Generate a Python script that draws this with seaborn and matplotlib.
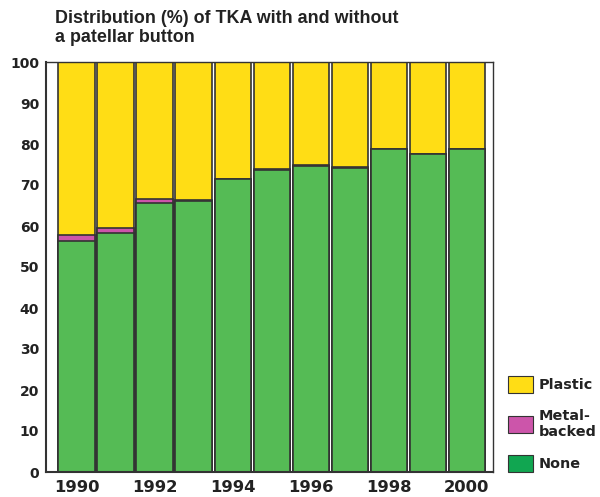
"""
Distribution (%) of TKA with and without a patellar button, 1990-2000
"""

import pandas as pd
import seaborn as sns
import matplotlib.pyplot as plt
from matplotlib.patches import Patch

years = ["1990", "1991", "1992", "1993", "1994", "1995",
         "1996", "1997", "1998", "1999", "2000"]
none_pct = [56.4, 58.4, 65.5, 66.1, 71.4, 73.6, 74.7, 74.2, 78.8, 77.5, 78.8]
metal_pct = [1.5, 1.0, 1.0, 0.2, 0.1, 0.4, 0.1, 0.1, 0.0, 0.0, 0.0]
plastic_pct = [100 - n - m for n, m in zip(none_pct, metal_pct)]

tick_labels = [y if int(y) % 2 == 0 else "" for y in years]

df = pd.DataFrame({"year": years, "none": none_pct,
                   "metal": metal_pct, "plastic": plastic_pct})
# cumulative heights so the layers can be drawn back to front
df["top_metal"] = df["none"] + df["metal"]
df["top_plastic"] = df["top_metal"] + df["plastic"]

c_plastic = "#FFDD15"
c_metal = "#CC55AA"
c_none = "#55BB55"
c_none_legend = "#11A651"
edge = "#333333"
txt = "#222222"

sns.set_style("white")
plt.rcParams["font.family"] = ["DejaVu Sans"]

fig = plt.figure(figsize=(6, 4.97), dpi=100)
ax = fig.add_axes([46 / 600, 1 - 472 / 497, 447 / 600, 410 / 497])

bar_kw = dict(width=0.94, edgecolor=edge, linewidth=1.2, ax=ax)
sns.barplot(data=df, x="year", y="top_plastic", color=c_plastic, saturation=1, **bar_kw)
sns.barplot(data=df, x="year", y="top_metal", color=c_metal, saturation=1, **bar_kw)
sns.barplot(data=df, x="year", y="none", color=c_none, saturation=1, **bar_kw)

ax.set_xlim(-0.79, 10.67)
ax.set_ylim(0, 100)
ax.set_yticks(range(0, 101, 10))
ax.set_xticks(range(len(years)))
ax.set_xticklabels(tick_labels)
ax.set_xlabel("")
ax.set_ylabel("")

for lab in ax.get_xticklabels():
    lab.set_fontweight("bold")
    lab.set_fontsize(11.8)
    lab.set_color(txt)
for lab in ax.get_yticklabels():
    lab.set_fontweight("bold")
    lab.set_fontsize(10)
    lab.set_color(txt)

ax.tick_params(axis="both", direction="out", length=3, width=2.5,
               color=txt, pad=2)
ax.tick_params(axis="x", pad=2.5)

for side, sp in ax.spines.items():
    sp.set_color(edge)
    sp.set_linewidth(1.0)
ax.spines["left"].set_linewidth(1.5)
ax.spines["bottom"].set_linewidth(1.5)

fig.text(55 / 600, 1 - 10 / 497,
         "Distribution (%) of TKA with and without\na patellar button",
         fontsize=12.9, fontweight="bold", va="top", ha="left",
         family="Liberation Sans", linespacing=1.12, color=txt)

handles = [Patch(facecolor=c_plastic, edgecolor=edge, linewidth=0.8),
           Patch(facecolor=c_metal, edgecolor=edge, linewidth=0.8),
           Patch(facecolor=c_none_legend, edgecolor=edge, linewidth=0.8)]
labels = ["Plastic", "Metal-\nbacked", "None"]
fig.legend(handles, labels, loc="lower left",
           bbox_to_anchor=(508 / 600, 1 - 472 / 497),
           frameon=False, prop=dict(weight="bold", size=10.4),
           labelcolor=txt,
           handlelength=1.7, handleheight=1.4, handletextpad=0.45,
           labelspacing=1.12, borderaxespad=0, borderpad=0)

fig.savefig("out.png", dpi=100)
